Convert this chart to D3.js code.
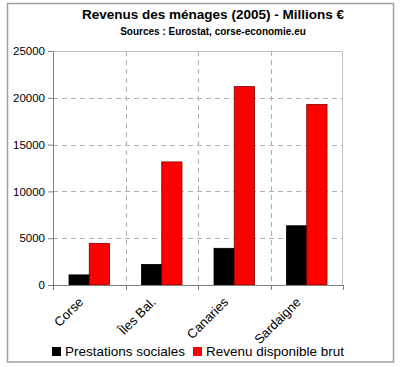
<!DOCTYPE html>
<html>
<head>
<meta charset="utf-8">
<script src="https://cdn.jsdelivr.net/npm/d3@7"></script>
<style>
  body { margin: 0; background: #fff; }
  text { font-family: "Liberation Sans", Arial, sans-serif; }
</style>
</head>
<body>
<div class="chart"></div>
<script>
let regions = ["Corse", "Îles Bal.", "Canaries", "Sardaigne"];
let seriesNames = ["Prestations sociales", "Revenu disponible brut"];
let prestations = [1080, 2200, 3920, 6330];
let revenu = [4450, 13150, 21200, 19300];
let yTicks = [0, 5000, 10000, 15000, 20000, 25000];
let colors = ["#000000", "#ff0000"];

let svgWidth = 400;
let svgHeight = 367;

let margin = { top: 51, right: 57, bottom: 82, left: 53 };
let width = svgWidth - margin.left - margin.right;
let height = svgHeight - margin.top - margin.bottom;

let svg = d3.select(".chart")
    .append("svg")
    .attr("width", svgWidth)
    .attr("height", svgHeight);

// outer frame
svg.append("rect")
    .attr("x", 7.5).attr("y", 3.5)
    .attr("width", 386).attr("height", 358.5)
    .attr("fill", "#fff")
    .attr("stroke", "#a0a0a0")
    .attr("stroke-width", 1.5);

// titles
svg.append("text")
    .attr("x", 213).attr("y", 19)
    .attr("text-anchor", "middle")
    .attr("font-size", 13.5)
    .attr("font-weight", "bold")
    .text("Revenus des ménages (2005) - Millions €");

svg.append("text")
    .attr("x", 213).attr("y", 35)
    .attr("text-anchor", "middle")
    .attr("font-size", 10)
    .attr("font-weight", "bold")
    .text("Sources : Eurostat, corse-economie.eu");

let chartGroup = svg.append("g")
    .attr("transform", `translate(${margin.left}, ${margin.top})`);

let x0 = d3.scaleBand()
    .domain(regions)
    .range([0, width])
    .paddingInner(0)
    .paddingOuter(0);

let x1 = d3.scaleBand()
    .domain(seriesNames)
    .range([16, x0.bandwidth() - 16]);

let y = d3.scaleLinear()
    .domain([0, 25000])
    .range([height, 0]);

// plot area border (top/right)
chartGroup.append("path")
    .attr("d", `M0,0.5H${width - 0.5}V${height}`)
    .attr("fill", "none")
    .attr("stroke", "#c0c0c0");

// horizontal gridlines
chartGroup.selectAll(".hgrid")
    .data(yTicks.filter(d => d > 0 && d < 25000))
    .enter()
    .append("line")
    .attr("x1", 0).attr("x2", width)
    .attr("y1", d => Math.round(y(d)) + 0.5)
    .attr("y2", d => Math.round(y(d)) + 0.5)
    .attr("stroke", "#b0b0b0")
    .attr("stroke-dasharray", "5,4");

// vertical gridlines
chartGroup.selectAll(".vgrid")
    .data(regions.slice(1))
    .enter()
    .append("line")
    .attr("x1", d => Math.round(x0(d)) + 0.5)
    .attr("x2", d => Math.round(x0(d)) + 0.5)
    .attr("y1", 0).attr("y2", height)
    .attr("stroke", "#b0b0b0")
    .attr("stroke-dasharray", "5,4");

// bars
let groups = chartGroup.selectAll(".region")
    .data(regions)
    .enter()
    .append("g")
    .attr("transform", d => `translate(${x0(d)},0)`);

groups.selectAll("rect")
    .data((d, i) => [prestations[i], revenu[i]].map((v, j) => ({ key: seriesNames[j], value: v, j: j })))
    .enter()
    .append("rect")
    .attr("x", d => x1(d.key))
    .attr("y", d => y(d.value))
    .attr("width", x1.bandwidth())
    .attr("height", d => height - y(d.value))
    .attr("fill", d => colors[d.j])
    .attr("stroke", d => d.j === 0 ? "#000" : "#7a0000")
    .attr("stroke-width", 0.8);

// y axis
let leftAxis = d3.axisLeft(y)
    .tickValues(yTicks)
    .tickSize(5)
    .tickPadding(3)
    .tickFormat(d3.format("d"));

let yAxis = chartGroup.append("g").call(leftAxis);
yAxis.select(".domain").attr("stroke", "#808080");
yAxis.selectAll(".tick line").attr("stroke", "#808080");
yAxis.selectAll("text")
    .attr("font-size", 11.5)
    .attr("fill", "#000")
    .style("font-family", "'Liberation Sans', Arial, sans-serif");

// x axis
let xAxisG = chartGroup.append("g")
    .attr("transform", `translate(0, ${height})`);
xAxisG.append("line")
    .attr("x1", 0).attr("x2", width)
    .attr("y1", 0.5).attr("y2", 0.5)
    .attr("stroke", "#808080");
xAxisG.selectAll(".xtick")
    .data(regions.concat(["end"]))
    .enter()
    .append("line")
    .attr("x1", (d, i) => Math.round(i * x0.bandwidth()) + 0.5)
    .attr("x2", (d, i) => Math.round(i * x0.bandwidth()) + 0.5)
    .attr("y1", 0).attr("y2", 5)
    .attr("stroke", "#808080");

xAxisG.selectAll(".xlabel")
    .data(regions)
    .enter()
    .append("text")
    .attr("transform", d => `translate(${x0(d) + x0.bandwidth() / 2 - 12}, 11) rotate(-45)`)
    .attr("text-anchor", "end")
    .attr("dy", "0.75em")
    .attr("font-size", 13)
    .text(d => d);

// legend
let legend = svg.append("g");
let legendX = [52, 193];
seriesNames.forEach(function (name, i) {
    legend.append("rect")
        .attr("x", legendX[i]).attr("y", 347)
        .attr("width", 9).attr("height", 9)
        .attr("fill", colors[i]);
    legend.append("text")
        .attr("x", legendX[i] + 13).attr("y", 356)
        .attr("font-size", 13.5)
        .text(name);
});
</script>
</body>
</html>
